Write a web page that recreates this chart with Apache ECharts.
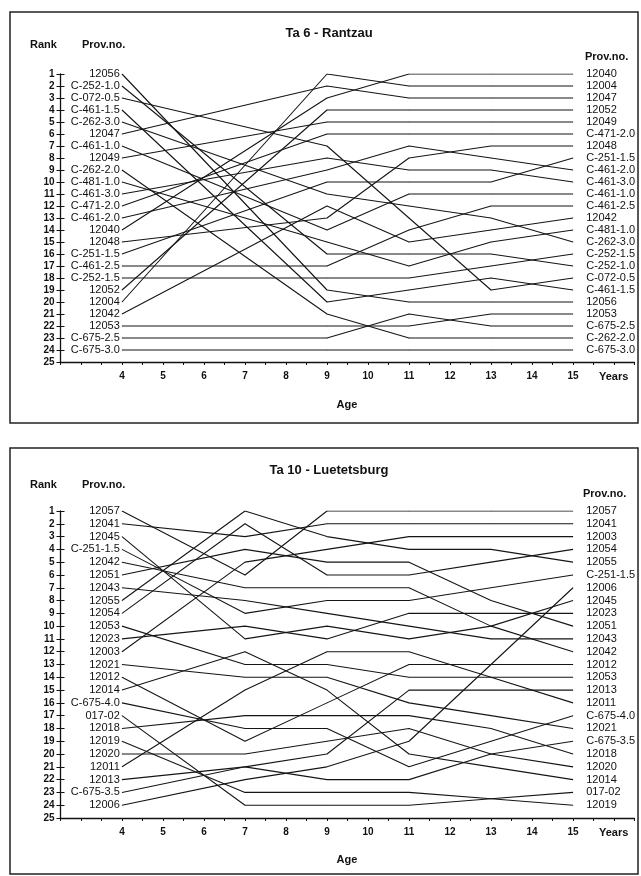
<!DOCTYPE html>
<html><head><meta charset="utf-8">
<script src="https://cdn.jsdelivr.net/npm/echarts/dist/echarts.min.js"></script>
<style>html,body{margin:0;padding:0;background:#fff}#c{width:641px;height:876px}</style>
</head><body><div id="c"></div>
<script>
// ---------- DATA ----------
const xTickLabels = [4, 5, 6, 7, 8, 9, 10, 11, 12, 13, 14, 15];
const rankTickLabels = [1,2,3,4,5,6,7,8,9,10,11,12,13,14,15,16,17,18,19,20,21,22,23,24,25];

// Panel 1: Ta 6 - Rantzau (ages 4, 9, 11, 13, 15)
const ages1 = [4, 9, 11, 13, 15];
const prov1 = ['12056','C-252-1.0','C-072-0.5','C-461-1.5','C-262-3.0','12047','C-461-1.0','12049',
  'C-262-2.0','C-481-1.0','C-461-3.0','C-471-2.0','C-461-2.0','12040','12048','C-251-1.5',
  'C-461-2.5','C-252-1.5','12052','12004','12042','12053','C-675-2.5','C-675-3.0'];
const p1Age4  = [1,2,3,4,5,6,7,8,9,10,11,12,13,14,15,16,17,18,19,20,21,22,23,24];
const p1Age9  = [19,16,7,20,11,2,14,5,21,15,8,6,9,3,13,10,17,18,4,1,12,22,23,24];
const p1Age11 = [20,16,13,19,12,3,11,5,23,17,9,6,7,1,8,10,14,18,4,2,15,22,21,24];
const p1Age13 = [20,16,19,18,13,3,11,5,23,15,9,6,8,1,7,10,12,17,4,2,14,21,22,24];
const p1Age15 = [20,17,18,19,15,3,11,5,23,14,10,6,9,1,7,8,12,16,4,2,13,21,22,24];

// Panel 2: Ta 10 - Luetetsburg (ages 4, 7, 9, 11, 13, 15)
const ages2 = [4, 7, 9, 11, 13, 15];
const prov2 = ['12057','12041','12045','C-251-1.5','12042','12051','12043','12055','12054','12053',
  '12023','12003','12021','12012','12014','C-675-4.0','017-02','12018','12019','12020','12011',
  '12013','C-675-3.5','12006'];
const p2Age4  = [1,2,3,4,5,6,7,8,9,10,11,12,13,14,15,16,17,18,19,20,21,22,23,24];
const p2Age7  = [6,3,11,9,7,4,8,1,2,13,10,5,14,19,12,18,24,17,23,20,15,21,21,22];
const p2Age9  = [1,2,10,8,7,5,9,3,6,13,11,4,14,16,15,18,24,17,23,19,12,20,22,21];
const p2Age11 = [1,2,11,8,7,5,10,4,6,14,9,3,16,13,20,21,24,17,23,18,12,15,22,19];
const p2Age13 = [1,2,10,7,10,8,11,4,5,14,9,3,17,13,21,19,23.5,18,23.5,20,14,15,20,13];
const p2Age15 = [1,2,8,6,12,10,11,5,4,14,9,3,18,13,22,17,23,20,24,21,16,15,19,7];

// ---------- CHART ----------
const FONT = "'Liberation Sans', Arial, sans-serif";
const INK = '#111';
const panels = [
  { prov: prov1, ages: ages1, cols: [p1Age4, p1Age9, p1Age11, p1Age13, p1Age15],
    top: 74, height: 288 },
  { prov: prov2, ages: ages2, cols: [p2Age4, p2Age7, p2Age9, p2Age11, p2Age13, p2Age15],
    top: 511, height: 307 }
];

const grids = [], xAxes = [], yAxes = [], series = [];
panels.forEach((p, gi) => {
  grids.push({ left: 60.5, top: p.top, width: 574, height: p.height });
  xAxes.push({
    type: 'value', gridIndex: gi, min: 2.5, max: 16.5, interval: 0.5,
    axisLine: { onZero: false, lineStyle: { color: INK, width: 1.3 } },
    axisTick: { show: true, length: 3, lineStyle: { color: INK } },
    splitLine: { show: false },
    axisLabel: {
      interval: 0, margin: 9, color: INK, fontFamily: FONT, fontWeight: 'bold', fontSize: 10,
      formatter: v => xTickLabels.includes(v) ? String(v) : ''
    }
  });
  yAxes.push({
    type: 'value', gridIndex: gi, position: 'left', min: 1, max: 25, interval: 1, inverse: true,
    axisLine: { show: true, onZero: false, lineStyle: { color: INK, width: 1.3 } },
    axisTick: { show: true, length: 4, lineStyle: { color: INK } },
    splitLine: { show: false },
    axisLabel: {
      margin: 6, color: INK, fontFamily: FONT, fontWeight: 'bold', fontSize: 10,
      formatter: v => rankTickLabels.includes(v) ? String(v) : ''
    }
  });
  yAxes.push({
    type: 'value', gridIndex: gi, position: 'left', offset: 0, min: 1, max: 25, interval: 1, inverse: true,
    axisLine: { show: false, onZero: false },
    axisTick: { show: true, inside: true, length: 4, lineStyle: { color: INK } },
    axisLabel: { show: false }, splitLine: { show: false }
  });
  const n = p.prov.length;
  for (let i = 0; i < n; i++) {
    const data = p.ages.map((a, k) => {
      const item = { value: [a, p.cols[k][i]] };
      if (k === 0) item.label = { show: true, position: 'left', distance: 2, formatter: p.prov[i] };
      if (k === p.ages.length - 1) item.label = { show: true, position: 'right', distance: 13, formatter: p.prov[i] };
      return item;
    });
    series.push({
      type: 'line', xAxisIndex: gi, yAxisIndex: gi * 2, data,
      symbol: 'circle', symbolSize: 0.5, showSymbol: true,
      lineStyle: { color: '#151515', width: 1.1 }, itemStyle: { color: '#151515' },
      label: { show: false, color: INK, fontFamily: FONT, fontSize: 11 },
      emphasis: { disabled: true }, silent: true, animation: false
    });
  }
});

function txt(x, y, text, opt) {
  return {
    type: 'text', x, y, silent: true,
    style: Object.assign({ text, fill: INK, font: 'bold 11px ' + FONT, textVerticalAlign: 'middle' }, opt || {})
  };
}

const graphic = [
  { type: 'rect', shape: { x: 10, y: 12, width: 628, height: 411 }, style: { fill: 'none', stroke: '#222', lineWidth: 1.5 }, silent: true },
  { type: 'rect', shape: { x: 10, y: 448, width: 628, height: 426 }, style: { fill: 'none', stroke: '#222', lineWidth: 1.5 }, silent: true },
  txt(329, 33, 'Ta 6 - Rantzau', { font: 'bold 13px ' + FONT, textAlign: 'center' }),
  txt(329, 470, 'Ta 10 - Luetetsburg', { font: 'bold 13px ' + FONT, textAlign: 'center' }),
  txt(30, 45, 'Rank'), txt(82, 45, 'Prov.no.'), txt(585, 57, 'Prov.no.'),
  txt(30, 485, 'Rank'), txt(82, 485, 'Prov.no.'), txt(583, 494, 'Prov.no.'),
  txt(599, 377, 'Years'), txt(599, 833, 'Years'),
  txt(347, 405, 'Age', { textAlign: 'center' }), txt(347, 860, 'Age', { textAlign: 'center' })
];

const chart = echarts.init(document.getElementById('c'), null, { renderer: 'canvas' });
chart.setOption({
  animation: false, backgroundColor: '#fff',
  grid: grids, xAxis: xAxes, yAxis: yAxes, series, graphic
});
</script></body></html>
